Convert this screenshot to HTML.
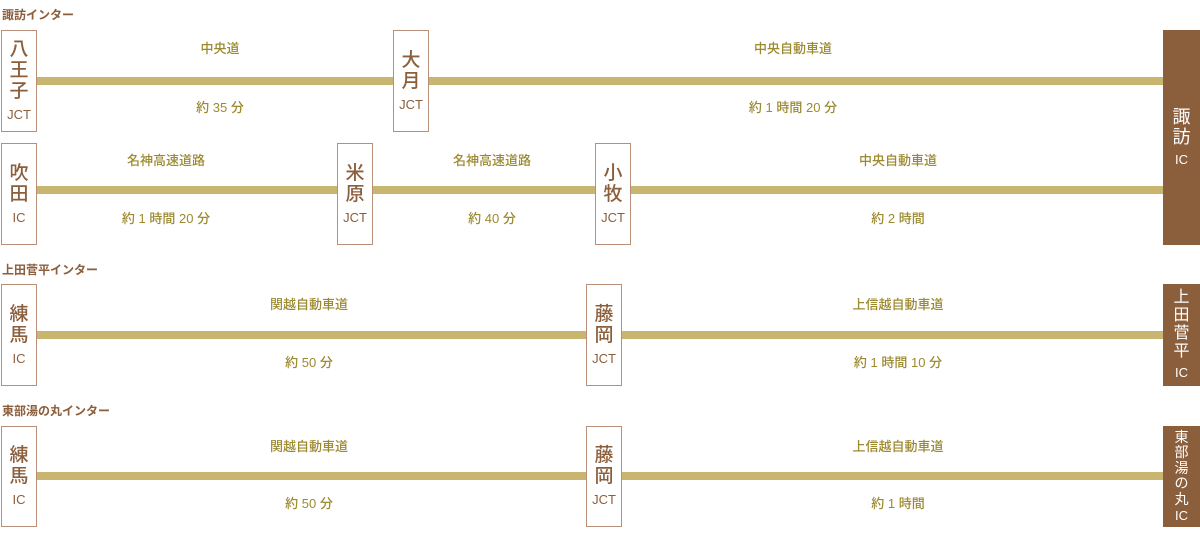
<!DOCTYPE html>
<html><head><meta charset="utf-8"><style>
*{margin:0;padding:0;box-sizing:border-box}
body{width:1200px;height:554px;background:#fff;position:relative;overflow:hidden;font-family:"Liberation Sans","Noto Sans CJK JP",sans-serif}
.h{position:absolute;left:2px;font-size:12px;font-weight:bold;color:#8b5e3c;line-height:14px}
.b{position:absolute;width:36px;border:1.5px solid #b8907a;background:#fff;display:flex;flex-direction:column;align-items:center;justify-content:center;color:#8b5e3c;z-index:2}
.b .k{font-size:19px;line-height:21px;font-weight:500}
.b .e{font-size:13px;line-height:16px;margin-top:5px}
.d{position:absolute;left:1163px;width:37px;background:#8b5e3c;color:#fff;display:flex;flex-direction:column;align-items:center;justify-content:center;z-index:2}
.d .k{font-size:18px;line-height:20px}
.d .e{font-size:13px;line-height:16px;margin-top:5px}
.l{position:absolute;height:8px;background:#c8b570}
.t{position:absolute;font-size:13px;color:#9c8a30;text-align:center;line-height:16px;white-space:nowrap;transform:translateX(-50%);font-weight:500}
</style></head><body>
<div class="h" style="top:8px">諏訪インター</div>
<div class="l" style="left:36px;width:1127px;top:77px"></div>
<div class="b" style="left:1px;top:30px;height:102px"><span class="k">八<br>王<br>子</span><span class="e">JCT</span></div>
<div class="b" style="left:393px;top:30px;height:102px"><span class="k">大<br>月</span><span class="e">JCT</span></div>
<div class="t" style="left:220px;top:41px">中央道</div>
<div class="t" style="left:220px;top:100px">約 35 分</div>
<div class="t" style="left:793px;top:41px">中央自動車道</div>
<div class="t" style="left:793px;top:100px">約 1 時間 20 分</div>

<div class="l" style="left:36px;width:1127px;top:186px"></div>
<div class="b" style="left:1px;top:143px;height:102px"><span class="k">吹<br>田</span><span class="e">IC</span></div>
<div class="b" style="left:337px;top:143px;height:102px"><span class="k">米<br>原</span><span class="e">JCT</span></div>
<div class="b" style="left:595px;top:143px;height:102px"><span class="k">小<br>牧</span><span class="e">JCT</span></div>
<div class="t" style="left:166px;top:153px">名神高速道路</div>
<div class="t" style="left:166px;top:211px">約 1 時間 20 分</div>
<div class="t" style="left:492px;top:153px">名神高速道路</div>
<div class="t" style="left:492px;top:211px">約 40 分</div>
<div class="t" style="left:898px;top:153px">中央自動車道</div>
<div class="t" style="left:898px;top:211px">約 2 時間</div>
<div class="d" style="top:30px;height:215px"><span class="k">諏<br>訪</span><span class="e">IC</span></div>

<div class="h" style="top:263px">上田菅平インター</div>
<div class="l" style="left:36px;width:1127px;top:331px"></div>
<div class="b" style="left:1px;top:284px;height:102px"><span class="k">練<br>馬</span><span class="e">IC</span></div>
<div class="b" style="left:586px;top:284px;height:102px"><span class="k">藤<br>岡</span><span class="e">JCT</span></div>
<div class="t" style="left:309px;top:297px">関越自動車道</div>
<div class="t" style="left:309px;top:355px">約 50 分</div>
<div class="t" style="left:898px;top:297px">上信越自動車道</div>
<div class="t" style="left:898px;top:355px">約 1 時間 10 分</div>
<div class="d" style="top:284px;height:102px"><span class="k" style="font-size:16px;line-height:18px">上<br>田<br>菅<br>平</span><span class="e" style="margin-top:4px">IC</span></div>

<div class="h" style="top:404px">東部湯の丸インター</div>
<div class="l" style="left:36px;width:1127px;top:472px"></div>
<div class="b" style="left:1px;top:426px;height:101px"><span class="k">練<br>馬</span><span class="e">IC</span></div>
<div class="b" style="left:586px;top:426px;height:101px"><span class="k">藤<br>岡</span><span class="e">JCT</span></div>
<div class="t" style="left:309px;top:439px">関越自動車道</div>
<div class="t" style="left:309px;top:496px">約 50 分</div>
<div class="t" style="left:898px;top:439px">上信越自動車道</div>
<div class="t" style="left:898px;top:496px">約 1 時間</div>
<div class="d" style="top:426px;height:101px"><span class="k" style="font-size:14px;line-height:15.5px">東<br>部<br>湯<br>の<br>丸</span><span class="e" style="margin-top:2px;font-size:13px;line-height:14px">IC</span></div>
</body></html>
